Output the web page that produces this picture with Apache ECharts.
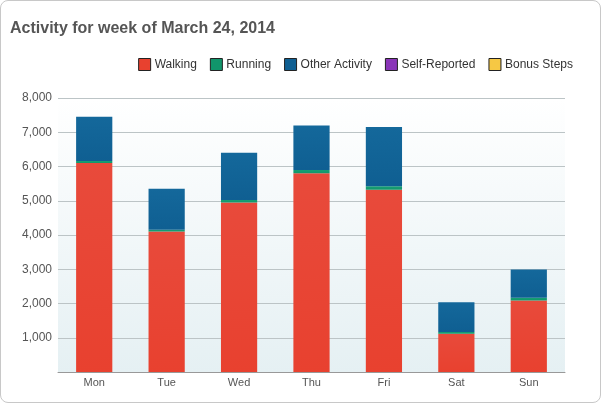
<!DOCTYPE html>
<html><head><meta charset="utf-8">
<script src="https://cdn.jsdelivr.net/npm/echarts@6/dist/echarts.min.js"></script>
<style>
html,body{margin:0;padding:0;background:#fff;}
#wrap{position:absolute;left:0;top:0;width:599px;height:401px;border:1px solid #c8c8c8;border-radius:8px;overflow:hidden;background:#fff;}
#c{width:599px;height:401px;}
</style></head>
<body><div id="wrap"><div id="c"></div></div>
<script>
const categories = ['Mon','Tue','Wed','Thu','Fri','Sat','Sun'];
const walking = [6100, 4100, 4950, 5800, 5320, 1120, 2090];
const running = [60, 50, 70, 100, 100, 50, 80];
const otherActivity = [1290, 1200, 1380, 1300, 1730, 870, 820];
const selfReported = [0, 0, 0, 0, 0, 0, 0];
const bonusSteps = [0, 0, 0, 0, 0, 0, 0];
const seriesNames = ['Walking','Running','Other Activity','Self-Reported','Bonus Steps'];
const colors = ['#e8412f','#11956b','#0f5f92','#8a35b8','#f6c844'];
const topColors = ['#e84a3b','#16a074','#14689b','#9440c2','#f8d055'];

const chart = echarts.init(document.getElementById('c'), null, {renderer:'canvas'});
const dataSets = [walking, running, otherActivity, selfReported, bonusSteps];
const series = seriesNames.map((n,i)=>({
  name:n, type:'bar', stack:'total', barWidth:'50%',
  data:dataSets[i],
  itemStyle:{color:new echarts.graphic.LinearGradient(0,0,0,1,[{offset:0,color:topColors[i]},{offset:1,color:colors[i]}])},
  emphasis:{disabled:true}
}));
chart.setOption({
  animation:false,
  title:{text:'Activity for week of March 24, 2014',left:4,top:15,
    textStyle:{fontFamily:'Arial, Liberation Sans, sans-serif',fontSize:16,fontWeight:'bold',color:'#555'}},
  legend:{right:22,top:52,itemWidth:12,itemHeight:12,itemGap:13,icon:'rect',
    data:seriesNames.map((n,i)=>({name:n,itemStyle:{color:colors[i],borderColor:'#222',borderWidth:1}})),
    textStyle:{fontFamily:'Arial, Liberation Sans, sans-serif',fontSize:12,color:'#333',padding:[0,0,0,-1]}},
  grid:{left:57,right:35,top:97,bottom:30,show:true,borderWidth:0,
    backgroundColor:new echarts.graphic.LinearGradient(0,0,0,1,[{offset:0,color:'#ffffff'},{offset:1,color:'#e5f0f3'}])},
  xAxis:{type:'category',data:categories,
    axisLine:{lineStyle:{color:'#999'}},axisTick:{show:false},
    axisLabel:{color:'#555',fontSize:11,fontFamily:'Arial, Liberation Sans, sans-serif',margin:5}},
  yAxis:{type:'value',min:0,max:8000,interval:1000,
    axisLine:{show:false},axisTick:{show:false},
    splitLine:{lineStyle:{color:'#bcc4c6'}},
    axisLabel:{color:'#555',fontSize:12,fontFamily:'Arial, Liberation Sans, sans-serif',margin:6,
      formatter:v=>v===0?'':v.toLocaleString('en-US')}},
  series:series
});
</script></body></html>
